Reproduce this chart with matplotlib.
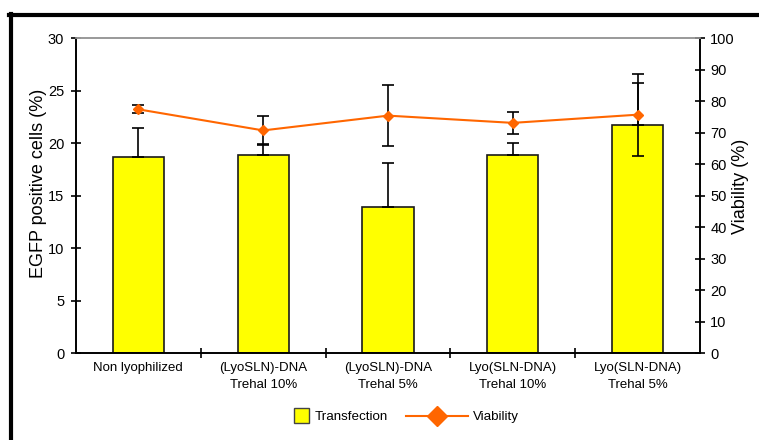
import matplotlib.pyplot as plt
from matplotlib.legend_handler import HandlerPatch
from matplotlib.lines import Line2D
from matplotlib.patches import Patch, Rectangle

plt.rcParams['font.family'] = ['Liberation Sans', 'DejaVu Sans']

groups = ['Non lyophilized', '(LyoSLN)-DNA\nTrehal 10%', '(LyoSLN)-DNA\nTrehal 5%',
          'Lyo(SLN-DNA)\nTrehal 10%', 'Lyo(SLN-DNA)\nTrehal 5%']
transfection = [18.7, 18.9, 13.9, 18.9, 21.8]
transfection_err = [2.8, 1.05, 4.2, 1.15, 4.0]
viability = [77.5, 70.8, 75.5, 73.2, 75.8]
viability_err = [1.3, 4.7, 9.6, 3.4, 13.0]


def square_patch(legend, orig_handle, xdescent, ydescent, width, height, fontsize):
    # square swatch sitting at the right end of the handle box
    s = 11
    return Rectangle((width - s - xdescent, (height - s) / 2 - ydescent), s, s)


fig = plt.figure(figsize=(7.59, 4.40), dpi=100)
ax = fig.add_axes([0.1001, 0.197, 0.8221, 0.7155])
ax2 = ax.twinx()

x = list(range(len(groups)))
ax.bar(x, transfection, width=0.41, color='#FFFF00', edgecolor='#1a1a1a', linewidth=1.2, zorder=2)
ax.errorbar(x, transfection, yerr=[[0] * len(x), transfection_err], fmt='none',
            ecolor='black', elinewidth=1.2, capsize=4, capthick=1.2, zorder=3)

ax2.plot(x, viability, color='#FF6600', linewidth=1.5, marker='D', markersize=5,
         markerfacecolor='#FF6600', markeredgecolor='#FF6600', zorder=4)
ax2.errorbar(x, viability, yerr=viability_err, fmt='none',
             ecolor='black', elinewidth=1.2, capsize=4, capthick=1.2, zorder=3)

ax.set_xlim(-0.5, len(groups) - 0.5)
ax.set_ylim(0, 30)
ax2.set_ylim(0, 100)
ax.set_yticks(range(0, 31, 5))
ax2.set_yticks(range(0, 101, 10))

ax.set_xticks(x)
ax.set_xticklabels(groups, fontsize=9.5, linespacing=1.6)
ax.set_xticks([i + 0.5 for i in x[:-1]], minor=True)
ax.tick_params(axis='x', which='major', length=0, pad=6)
ax.tick_params(axis='x', which='minor', direction='inout', length=7, width=1.2)
ax.tick_params(axis='y', direction='inout', length=7, width=1.2, labelsize=10.5, pad=5)
ax2.tick_params(axis='y', direction='inout', length=7, width=1.2, labelsize=10.5, pad=4)

for a in (ax, ax2):
    for side in ('left', 'right', 'bottom'):
        a.spines[side].set_color('black')
        a.spines[side].set_linewidth(1.2)
    a.spines['top'].set_color('#999999')
    a.spines['top'].set_linewidth(1.2)

ax.set_ylabel('EGFP positive cells (%)', fontsize=13)
ax2.set_ylabel('Viability (%)', fontsize=13, rotation=90)
ax.yaxis.set_label_coords(-0.047, 0.54)
ax2.yaxis.set_label_coords(1.051, 0.53)

handles = [Patch(facecolor='#FFFF00', edgecolor='#444444', label='Transfection'),
           Line2D([], [], color='#FF6600', linewidth=1.5, marker='D', markersize=10,
                  label='Viability')]
fig.legend(handles=handles, loc='center', bbox_to_anchor=(0.505, 0.052), ncol=2,
           frameon=False, fontsize=9.6, handlelength=4.6, columnspacing=1.4,
           handletextpad=0.4, handler_map={Patch: HandlerPatch(patch_func=square_patch)})

# black frame along top and left edges
fig.add_artist(Line2D([9 / 759, 1], [1 - 15.5 / 440] * 2, color='black', linewidth=3,
                      transform=fig.transFigure))
fig.add_artist(Line2D([11 / 759] * 2, [0, 1 - 14 / 440], color='black', linewidth=3,
                      transform=fig.transFigure))

fig.savefig('out.png', dpi=100)
